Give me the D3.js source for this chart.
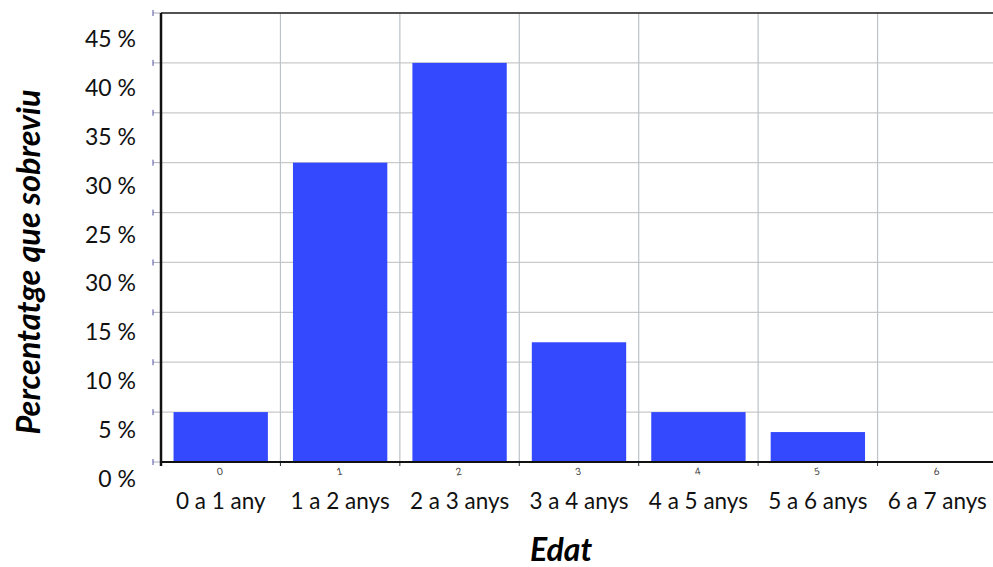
<!DOCTYPE html>
<html><head><meta charset="utf-8">
<script src="https://cdn.jsdelivr.net/npm/d3@7"></script>
<style>body{margin:0;background:#fff}svg{display:block}text{font-family:Lato,"Open Sans",sans-serif}</style>
</head><body><svg id="c" width="993" height="567"></svg>
<script>
const categories = ["0 a 1 any","1 a 2 anys","2 a 3 anys","3 a 4 anys","4 a 5 anys","5 a 6 anys","6 a 7 anys"];
const indexLabels = ["0","1","2","3","4","5","6"];
const values = [5, 30, 40, 12, 5, 3, 0];
const gridValues = [0,5,10,15,20,25,30,35,40,45];
const tickLabels = ["0 %","5 %","10 %","15 %","30 %","25 %","30 %","35 %","40 %","45 %"];

const svg = d3.select("#c");
const L = 161, R = 997, T = 13, B = 462;
const x = d3.scaleBand().domain(indexLabels).range([L, R]).paddingInner(0.21).paddingOuter(0.105);
const xb = d3.scaleBand().domain(indexLabels).range([L, R]);
const y = d3.scaleLinear().domain([0, 45]).range([B, T]);
const yl = d3.scaleLinear().domain([0, 45]).range([478, 38]);

// grid
svg.append("g").selectAll("line").data(gridValues.slice(1)).join("line")
  .attr("x1", L).attr("x2", R).attr("y1", d => y(d)).attr("y2", d => y(d))
  .attr("stroke", "#c9c9c9").attr("stroke-width", 1.2);
svg.append("g").selectAll("line").data(indexLabels.slice(1)).join("line")
  .attr("x1", d => xb(d)).attr("x2", d => xb(d)).attr("y1", T).attr("y2", B)
  .attr("stroke", "#bcc3c9").attr("stroke-width", 1.2);

// bars
svg.append("g").selectAll("rect").data(values).join("rect")
  .attr("x", (d, i) => x(indexLabels[i])).attr("width", x.bandwidth())
  .attr("y", d => y(d)).attr("height", d => B - y(d))
  .attr("fill", "#3448fe");

// top border
svg.append("line").attr("x1", L).attr("x2", R).attr("y1", T).attr("y2", T)
  .attr("stroke", "#222").attr("stroke-width", 1.5);

// y small ticks
svg.append("g").selectAll("line").data(gridValues).join("line")
  .attr("x1", L - 8).attr("x2", L).attr("y1", d => y(d)).attr("y2", d => y(d))
  .attr("stroke", "#aab").attr("stroke-width", 1);
svg.append("g").selectAll("line").data(gridValues).join("line")
  .attr("x1", L - 8).attr("x2", L - 8).attr("y1", d => y(d) - 3).attr("y2", d => y(d) + 3)
  .attr("stroke", "#5050a0").attr("stroke-width", 1);

// x axis ticks
svg.append("g").selectAll("line").data(indexLabels.slice(1)).join("line")
  .attr("x1", d => xb(d)).attr("x2", d => xb(d)).attr("y1", B).attr("y2", B + 4)
  .attr("stroke", "#333").attr("stroke-width", 1);

// axes lines
svg.append("line").attr("x1", L).attr("x2", R).attr("y1", B).attr("y2", B)
  .attr("stroke", "#111").attr("stroke-width", 2);
svg.append("line").attr("x1", L).attr("x2", L).attr("y1", T).attr("y2", B + 4)
  .attr("stroke", "#111").attr("stroke-width", 2.5);

// tiny index labels
svg.append("g").selectAll("text").data(indexLabels).join("text")
  .attr("transform", d => `translate(${xb(d) + xb.bandwidth()/2 - 1},${B + 9}) rotate(-12)`)
  .attr("text-anchor", "middle").attr("dominant-baseline", "central")
  .attr("font-size", 10).attr("fill", "#444").text(d => d);

// y tick labels
svg.append("g").selectAll("text").data(gridValues).join("text")
  .attr("x", 136).attr("y", d => yl(d)).attr("text-anchor", "end")
  .attr("dominant-baseline", "central").attr("font-size", 23).attr("fill", "#111")
  .text((d, i) => tickLabels[i]);

// category labels
svg.append("g").selectAll("text").data(categories).join("text")
  .attr("x", (d, i) => xb(indexLabels[i]) + xb.bandwidth()/2).attr("y", 500)
  .attr("text-anchor", "middle").attr("dominant-baseline", "central")
  .attr("font-size", 22.5).attr("fill", "#111").text(d => d);

// axis titles
svg.append("text").attr("transform", "translate(27,262) rotate(-90)")
  .attr("text-anchor", "middle").attr("dominant-baseline", "central")
  .attr("font-size", 32.5).attr("font-weight", "bold").attr("font-style", "italic")
  .attr("fill", "#000").text("Percentatge que sobreviu");
svg.append("text").attr("x", 561).attr("y", 548)
  .attr("text-anchor", "middle").attr("dominant-baseline", "central")
  .attr("font-size", 32).attr("font-weight", "bold").attr("font-style", "italic")
  .attr("fill", "#000").text("Edat");
</script></body></html>
